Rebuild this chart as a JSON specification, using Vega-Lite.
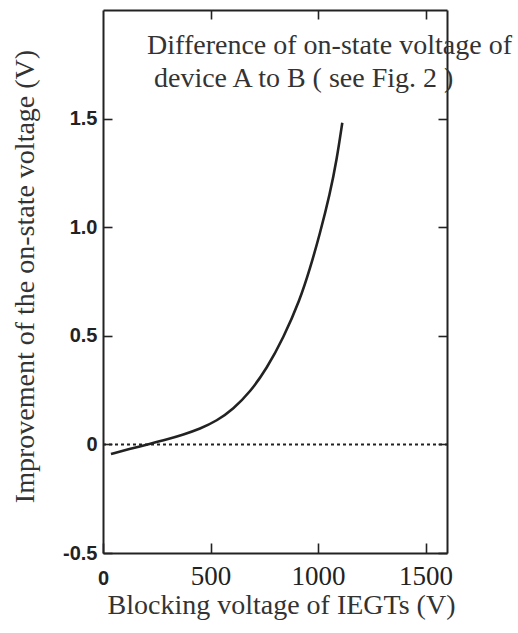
{
  "$schema": "https://vega.github.io/schema/vega-lite/v6.json",
  "width": 344,
  "height": 543,
  "autosize": "none",
  "padding": {"left": 103, "top": 10, "right": 71, "bottom": 80},
  "background": "white",
  "config": {
    "view": {"stroke": null},
    "axis": {
      "domainColor": "#222",
      "domainWidth": 2,
      "tickColor": "#222",
      "tickWidth": 1.6,
      "tickSize": -9,
      "labelColor": "#222",
      "titleColor": "#333",
      "grid": false
    }
  },
  "datasets": {
    "curve": [
      {"v": 37, "d": -0.044},
      {"v": 120, "d": -0.022},
      {"v": 219, "d": 0.003},
      {"v": 300, "d": 0.024},
      {"v": 373, "d": 0.045},
      {"v": 451, "d": 0.072},
      {"v": 529, "d": 0.108},
      {"v": 606, "d": 0.163},
      {"v": 684, "d": 0.241},
      {"v": 761, "d": 0.348},
      {"v": 839, "d": 0.49},
      {"v": 916, "d": 0.665},
      {"v": 963, "d": 0.81},
      {"v": 1009, "d": 0.97},
      {"v": 1056, "d": 1.156},
      {"v": 1087, "d": 1.31},
      {"v": 1113, "d": 1.481}
    ],
    "zero": [
      {"v": 0, "d": 0},
      {"v": 1600, "d": 0}
    ],
    "note": [
      {"v": 205, "d": 1.797, "label": "Difference of on-state voltage of"},
      {"v": 237, "d": 1.645, "label": "device A to B ( see Fig. 2 )"}
    ]
  },
  "layer": [
    {
      "data": {"name": "curve"},
      "mark": {"type": "line", "color": "#222", "strokeWidth": 2.6, "interpolate": "basis"},
      "encoding": {
        "x": {
          "field": "v", "type": "quantitative",
          "scale": {"domain": [0, 1600], "nice": false, "zero": false},
          "axis": {
            "orient": "bottom",
            "values": [0, 500, 1000, 1500],
            "format": "d",
            "title": "Blocking voltage of IEGTs (V)",
            "titleFont": "Liberation Serif",
            "titleFontSize": 28,
            "titleFontWeight": "normal",
            "titleBaseline": "alphabetic",
            "titleX": 178,
            "titleY": 60,
            "labelFont": {"condition": {"test": "datum.value === 0", "value": "Liberation Sans"}, "value": "Liberation Serif"},
            "labelFontWeight": {"condition": {"test": "datum.value === 0", "value": "bold"}, "value": "normal"},
            "labelFontSize": {"condition": {"test": "datum.value === 0", "value": 20}, "value": 27},
            "labelBaseline": "alphabetic",
            "labelPadding": 41,
            "labelFlush": false,
            "labelOverlap": false,
            "tickSize": -10
          }
        },
        "y": {
          "field": "d", "type": "quantitative",
          "scale": {"domain": [-0.5, 2.0], "nice": false, "zero": false},
          "axis": {
            "orient": "left",
            "values": [-0.5, 0, 0.5, 1.0, 1.5],
            "labelExpr": "datum.value == 0 ? '0' : (datum.value < 0 ? '-0.5' : format(datum.value, '.1f'))",
            "labelFont": "Liberation Sans",
            "labelFontWeight": "bold",
            "labelFontSize": 20,
            "labelPadding": 15,
            "labelBaseline": "middle",
            "labelOverlap": false,
            "title": "Improvement of the on-state voltage (V)",
            "titleFont": "Liberation Serif",
            "titleFontSize": 28,
            "titleFontWeight": "normal",
            "titleBaseline": "alphabetic",
            "titleAngle": 270,
            "titleX": -70,
            "titleY": 266
          }
        }
      }
    },
    {
      "data": {"name": "zero"},
      "mark": {"type": "line", "color": "#222", "strokeWidth": 2, "strokeDash": [3, 3]},
      "encoding": {
        "x": {
          "field": "v", "type": "quantitative",
          "scale": {"domain": [0, 1600], "nice": false, "zero": false},
          "axis": {"orient": "top", "values": [500, 1000, 1500], "labels": false, "title": null}
        },
        "y": {
          "field": "d", "type": "quantitative",
          "scale": {"domain": [-0.5, 2.0], "nice": false, "zero": false},
          "axis": {"orient": "right", "values": [-0.5, 0, 0.5, 1.0, 1.5], "labels": false, "title": null}
        }
      }
    },
    {
      "data": {"name": "note"},
      "mark": {"type": "text", "align": "left", "baseline": "alphabetic", "font": "Liberation Serif", "fontSize": 28, "color": "#333"},
      "encoding": {
        "x": {"field": "v", "type": "quantitative", "scale": {"domain": [0, 1600], "nice": false, "zero": false}, "axis": null},
        "y": {"field": "d", "type": "quantitative", "scale": {"domain": [-0.5, 2.0], "nice": false, "zero": false}, "axis": null},
        "text": {"field": "label", "type": "nominal"}
      }
    }
  ],
  "resolve": {"axis": {"x": "independent", "y": "independent"}}
}
